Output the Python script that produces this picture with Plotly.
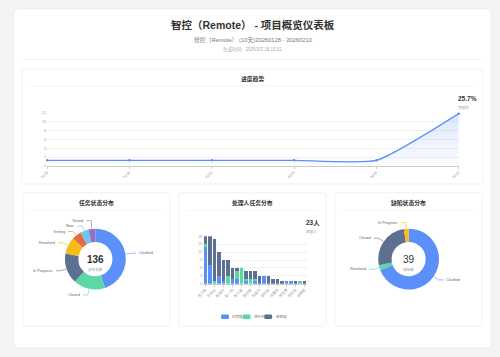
import math
import plotly.graph_objects as go

W, H = 500, 357
FONT = "Liberation Sans, Noto Sans CJK SC, sans-serif"

# ---------------- data ----------------
page_title = "智控（Remote） - 项目概览仪表板"
page_subtitle = "智控（Remote） (10天)20260128 - 20260210"
generated_at = "生成时间：2026/2/3 18:15:02"

trend_title = "进度趋势"
trend_dates = ["01/28", "01/30", "02/02", "02/04", "02/06", "02/10"]
trend_values = [1.3, 1.3, 1.3, 1.3, 1.3, 11.8]
completion_rate = "25.7%"
completion_label = "完成率"

status_title = "任务状态分布"
status_labels = ["Clarified", "Closed", "In Progress", "Resolved", "Testing", "New", "Tested"]
status_values = [61, 23, 22, 12, 7, 6, 5]
status_colors = ["#5B8FF9", "#5AD8A6", "#5D7092", "#F6BD16", "#E8684A", "#6DC8EC", "#9270CA"]
status_total_label = "总任务数"

assignee_title = "处理人任务分布"
assignees = ["张子涵", "李明轩", "王思远", "刘雨桐", "陈浩然", "杨梓萱", "赵一鸣", "黄佳怡",
             "周子墨", "吴欣妍", "徐志强", "孙雅婷", "马俊杰", "朱晓彤", "胡宇航", "郭诗涵",
             "何嘉伟", "高婉清", "林文博", "罗若曦", "郑天佑", "梁静怡", "谢明哲"]
series_names = ["已完成", "进行中", "待处理"]
done_counts = [14, 7, 0, 3, 1, 0, 2, 2, 0, 1, 0, 1, 0, 3, 0, 0, 0, 0, 1, 1, 0, 0, 0]
doing_counts = [1, 0, 1, 0, 0, 3, 0, 3, 6, 1, 2, 1, 0, 0, 0, 0, 0, 0, 0, 0, 0, 1, 0]
todo_counts = [3, 11, 16, 9, 8, 6, 4, 1, 0, 3, 3, 3, 3, 0, 3, 2, 2, 1, 0, 0, 1, 0, 1]
series_colors = ["#5B8FF9", "#5AD8A6", "#5D7092"]
assignee_unit_label = "处理人"

defect_title = "缺陷状态分布"
defect_labels = ["Clarified", "Resolved", "Closed", "In Progress"]
defect_values = [27, 1, 10, 1]
defect_colors = ["#5B8FF9", "#5AD8A6", "#5D7092", "#F6BD16"]
defect_total_label = "缺陷数"


# ---------------- helpers ----------------
def X(v):
    return v / W


def Y(v):
    return 1 - v / H


def rrect(x0, y0, x1, y1, r):
    return (f"M {X(x0+r)},{Y(y0)} L {X(x1-r)},{Y(y0)} Q {X(x1)},{Y(y0)} {X(x1)},{Y(y0+r)} "
            f"L {X(x1)},{Y(y1-r)} Q {X(x1)},{Y(y1)} {X(x1-r)},{Y(y1)} "
            f"L {X(x0+r)},{Y(y1)} Q {X(x0)},{Y(y1)} {X(x0)},{Y(y1-r)} "
            f"L {X(x0)},{Y(y0+r)} Q {X(x0)},{Y(y0)} {X(x0+r)},{Y(y0)} Z")


shapes = []
annotations = []


def text(x, y, s, size, color="#333", bold=False, xanchor="center"):
    annotations.append(dict(
        x=X(x), y=Y(y), xref="paper", yref="paper", text=f"<b>{s}</b>" if bold else s,
        showarrow=False, xanchor=xanchor, yanchor="middle",
        font=dict(family=FONT, size=size, color=color)))


def card(x0, y0, x1, y1, r=3, line="#e8e8e8"):
    shapes.append(dict(type="path", path=rrect(x0, y0, x1, y1, r), xref="paper", yref="paper",
                       fillcolor="white", line=dict(color=line, width=0.6), layer="below"))


def hline(x0, x1, y, color="#efefef"):
    shapes.append(dict(type="line", x0=X(x0), x1=X(x1), y0=Y(y), y1=Y(y), xref="paper",
                       yref="paper", line=dict(color=color, width=0.6), layer="below"))


def donut_labels(labels, values, colors, cx, cy, r):
    total = sum(values)
    items = []
    cum = 0
    for lab, v, c in zip(labels, values, colors):
        a = (cum + v / 2) / total * 2 * math.pi
        cum += v
        s, co = math.sin(a), math.cos(a)
        items.append(dict(lab=lab, c=c, side=1 if s >= 0 else -1,
                          x0=cx + (r + 0.3) * s, y0=cy - (r + 0.3) * co,
                          x1=cx + (r + 6) * s, y1=cy - (r + 6) * co))
    gap = 5.6
    for side in (1, -1):
        grp = sorted([it for it in items if it["side"] == side], key=lambda t: t["y1"])
        for _ in range(200):
            for a, b in zip(grp, grp[1:]):
                d = b["y1"] - a["y1"]
                if d < gap:
                    sh = (gap - d) / 2
                    a["y1"] -= sh
                    b["y1"] += sh
    for it in items:
        x2 = it["x1"] + it["side"] * 5
        shapes.append(dict(type="path", xref="paper", yref="paper",
                           path=f"M {X(it['x0'])},{Y(it['y0'])} L {X(it['x1'])},{Y(it['y1'])} L {X(x2)},{Y(it['y1'])}",
                           line=dict(color=it["c"], width=0.6)))
        text(x2 + it["side"] * 1, it["y1"], it["lab"], 3.8, "#666",
             xanchor="left" if it["side"] > 0 else "right")


# ---------------- page frame ----------------
card(7, 7, 493, 350, r=5, line="#e6e6e6")
text(250, 23, page_title, 10.5, "#333", bold=True)
text(250, 38, page_subtitle, 5.8, "#777")
text(250, 48, generated_at, 4.5, "#aaa")
hline(16, 484, 58, "#e6e6e6")

# top panel
card(15, 68, 485, 184)
text(250, 78, trend_title, 5.8, "#333", bold=True)
hline(22, 478, 85)

# bottom panels
panels = [(16, 166, status_title), (175, 325, assignee_title), (334, 484, defect_title)]
for x0, x1, t in panels:
    card(x0, 193, x1, 328)
    text((x0 + x1) / 2, 203, t, 5.8, "#333", bold=True)
    hline(x0 + 8, x1 - 8, 211)

fig = go.Figure()

# ---------------- trend line ----------------
fig.add_trace(go.Scatter(
    x=trend_dates, y=trend_values, mode="lines+markers",
    line=dict(color="#5B8FF9", width=1.3, shape="spline", smoothing=0.5),
    marker=dict(size=2.5, color="#5B8FF9"),
    fill="tozeroy",
    fillgradient=dict(type="vertical", start=0, stop=12,
                      colorscale=[[0, "rgba(91,143,249,0.02)"], [1, "rgba(91,143,249,0.22)"]]),
    cliponaxis=False, showlegend=False, hoverinfo="skip",
    xaxis="x", yaxis="y"))
text(457, 97.5, completion_rate, 6.5, "#333", bold=True, xanchor="left")
text(457, 106.5, completion_label, 3.6, "#999", xanchor="left")

# ---------------- assignee stacked bars ----------------
for name, vals, col in zip(series_names, [done_counts, doing_counts, todo_counts], series_colors):
    fig.add_trace(go.Bar(x=assignees, y=vals, name=name, marker=dict(color=col, line=dict(width=0)),
                         showlegend=False, hoverinfo="skip", xaxis="x2", yaxis="y2"))
text(302, 223, f"{len(assignees)}人", 6.5, "#333", bold=True, xanchor="left")
text(302, 232, assignee_unit_label, 3.6, "#999", xanchor="left")
for i, (name, col) in enumerate(zip(series_names, series_colors)):
    lx = 218 + i * 22
    shapes.append(dict(type="path", path=rrect(lx, 316, lx + 8, 320.5, 1.2), xref="paper",
                       yref="paper", fillcolor=col, line=dict(width=0)))
    text(lx + 9.5, 318.3, name, 3.5, "#666", xanchor="left")

# ---------------- donuts ----------------
def add_donut(labels, values, colors, cx, cy, r, total_label, bold):
    fig.add_trace(go.Pie(
        labels=labels, values=values, marker=dict(colors=colors, line=dict(width=0)),
        hole=0.56, sort=False, direction="clockwise", rotation=0, textinfo="none",
        showlegend=False, hoverinfo="skip",
        domain=dict(x=[X(cx - r), X(cx + r)], y=[Y(cy + r), Y(cy - r)])))
    text(cx, cy, str(sum(values)), 10, "#333", bold=bold)
    text(cx, cy + 10.5, total_label, 3.6, "#999")
    donut_labels(labels, values, colors, cx, cy, r)


add_donut(status_labels, status_values, status_colors, 90, 260, 31, status_total_label, True)
add_donut(defect_labels, defect_values, defect_colors, 409, 260, 31, defect_total_label, False)

axis_font = dict(family=FONT, size=3.5, color="#999")
fig.update_layout(
    width=W, height=H, margin=dict(l=0, r=0, t=0, b=0),
    paper_bgcolor="#f4f4f4", plot_bgcolor="rgba(0,0,0,0)",
    barmode="stack", bargap=0.18,
    shapes=shapes, annotations=annotations,
    xaxis=dict(domain=[X(41), X(460)], anchor="y", type="category", range=[0, len(trend_dates) - 1],
               showgrid=False, showline=True, linecolor="#ccc", linewidth=0.6,
               ticks="outside", ticklen=2, tickcolor="#ccc", tickwidth=0.6,
               tickangle=-45, tickfont=axis_font, zeroline=False, fixedrange=True),
    yaxis=dict(domain=[Y(166), Y(112)], anchor="x", range=[0, 12], dtick=2,
               showgrid=True, gridcolor="#f0f0f0", gridwidth=0.6, zeroline=False,
               showline=False, tickfont=axis_font, fixedrange=True),
    xaxis2=dict(domain=[X(199.7), X(305.3)], anchor="y2", type="category",
                tickmode="array", tickvals=assignees[::2], ticktext=assignees[::2],
                showgrid=False, showline=True, linecolor="#ccc", linewidth=0.6,
                ticks="outside", ticklen=2, tickcolor="#ccc", tickwidth=0.6,
                tickangle=-45, tickfont=axis_font, fixedrange=True),
    yaxis2=dict(domain=[Y(285), Y(237)], anchor="x2", range=[0, 18], dtick=3,
                showgrid=True, gridcolor="#f0f0f0", gridwidth=0.6, zeroline=False,
                showline=False, tickfont=axis_font, fixedrange=True),
    font=dict(family=FONT),
)

fig.write_html("out.html")
